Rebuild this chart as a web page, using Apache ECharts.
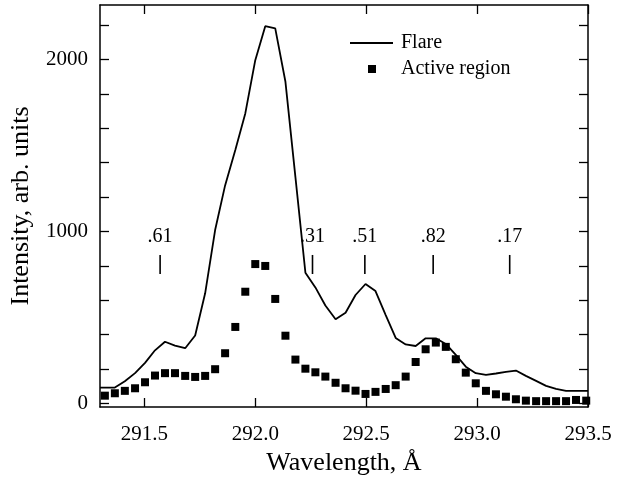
<!DOCTYPE html>
<html>
<head>
<meta charset="utf-8">
<script src="https://cdn.jsdelivr.net/npm/echarts@6/dist/echarts.min.js"></script>
<style>
  html, body { margin: 0; padding: 0; background: #ffffff; }
  #chart { width: 620px; height: 481px; }
</style>
</head>
<body>
<div id="chart"></div>
<script>
// Spectrometer sampling grid (Å) for the active-region profile
const wavelengthAR = [
  291.322, 291.367, 291.412, 291.458, 291.503, 291.548, 291.593, 291.638, 291.684, 291.729,
  291.774, 291.819, 291.864, 291.910, 291.955, 292.000, 292.045, 292.090, 292.136, 292.181,
  292.226, 292.271, 292.316, 292.362, 292.407, 292.452, 292.497, 292.542, 292.588, 292.633,
  292.678, 292.723, 292.768, 292.814, 292.859, 292.904, 292.949, 292.994, 293.040, 293.085,
  293.130, 293.175, 293.220, 293.266, 293.311, 293.356, 293.401, 293.446, 293.492
];
const activeRegion = [
  44, 58, 72, 87, 122, 161, 175, 175, 159, 153,
  159, 198, 291, 444, 649, 810, 799, 607, 393, 254,
  201, 180, 155, 119, 87, 73, 54, 66, 83, 105,
  155, 240, 314, 353, 328, 256, 178, 116, 72, 52,
  38, 23, 15, 12, 12, 12, 12, 19, 15
];

// Flare profile (same grid, plus the two window edges)
const wavelengthFlare = [
  291.300,
  291.322, 291.367, 291.412, 291.458, 291.503, 291.548, 291.593, 291.638, 291.684, 291.729,
  291.774, 291.819, 291.864, 291.910, 291.955, 292.000, 292.045, 292.090, 292.136, 292.181,
  292.226, 292.271, 292.316, 292.362, 292.407, 292.452, 292.497, 292.542, 292.588, 292.633,
  292.678, 292.723, 292.768, 292.814, 292.859, 292.904, 292.949, 292.994, 293.040, 293.085,
  293.130, 293.175, 293.220, 293.266, 293.311, 293.356, 293.401, 293.446, 293.492,
  293.500
];
const flare = [
  91,
  91, 91, 128, 175, 235, 308, 358, 335, 320, 394,
  640, 1008, 1268, 1474, 1687, 1997, 2195, 2182, 1871, 1316,
  760, 674, 569, 489, 527, 630, 694, 653, 513, 380,
  342, 333, 378, 378, 345, 281, 213, 175, 165, 173,
  182, 190, 159, 130, 101, 83, 72, 72, 72,
  72
];

// Line identifications: position markers and their labels
const idWavelength = [291.571, 292.258, 292.494, 292.802, 293.147];
const idLabel = ['.61', '.31', '.51', '.82', '.17'];
const idTickLow = 752;
const idTickHigh = 863;
const idLabelLevel = 967;

// Axis ticks
const xTicks = [291.5, 292.0, 292.5, 293.0, 293.5];
const yTicks = [0, 200, 400, 600, 800, 1000, 1200, 1400, 1600, 1800, 2000, 2200];
const yTickLabels = [0, 1000, 2000];

const FONT = '"Liberation Serif", "Times New Roman", serif';
const X_MIN = 291.3, X_MAX = 293.5;
const Y_MIN = -22, Y_MAX = 2318;

const chart = echarts.init(document.getElementById('chart'), null, { renderer: 'canvas' });

const frameLine = { show: true, onZero: false, lineStyle: { color: '#000', width: 1.5 } };
const tickStyle = { color: '#000', width: 1.3 };

chart.setOption({
  animation: false,
  backgroundColor: '#ffffff',
  textStyle: { fontFamily: FONT, color: '#000' },
  grid: { left: 100, right: 32, top: 5, bottom: 74, containLabel: false },
  legend: [
    {
      data: [{ name: 'Flare', icon: 'path://M0,0 L43,0 L43,2 L0,2 Z' }],
      left: 345, top: 28,
      itemWidth: 43, itemHeight: 8,
      itemStyle: { color: '#000', opacity: 1 },
      textStyle: { fontFamily: FONT, fontSize: 20, color: '#000', padding: [0, 0, 0, 3] },
      selectedMode: false
    },
    {
      data: [{ name: 'Active region', icon: 'rect' }],
      left: 363, top: 54,
      itemWidth: 8, itemHeight: 8,
      itemStyle: { color: '#000', opacity: 1 },
      textStyle: { fontFamily: FONT, fontSize: 20, color: '#000', padding: [0, 0, 0, 20] },
      selectedMode: false
    }
  ],
  xAxis: [
    {
      type: 'value', min: X_MIN, max: X_MAX, position: 'bottom',
      name: 'Wavelength, Å', nameLocation: 'middle', nameGap: 40,
      nameTextStyle: { fontFamily: FONT, fontSize: 26, color: '#000' },
      axisLine: frameLine,
      axisTick: { show: true, inside: true, length: 9, customValues: xTicks, lineStyle: tickStyle },
      axisLabel: { show: true, customValues: xTicks, margin: 17, fontFamily: FONT, fontSize: 21, color: '#000',
                   formatter: v => v.toFixed(1) },
      splitLine: { show: false }
    },
    {
      type: 'value', min: X_MIN, max: X_MAX, position: 'top',
      axisLine: frameLine,
      axisTick: { show: true, inside: true, length: 9, customValues: xTicks, lineStyle: tickStyle },
      axisLabel: { show: false },
      splitLine: { show: false }
    }
  ],
  yAxis: [
    {
      type: 'value', min: Y_MIN, max: Y_MAX, position: 'left',
      name: 'Intensity, arb. units', nameLocation: 'middle', nameGap: 66,
      nameTextStyle: { fontFamily: FONT, fontSize: 26, color: '#000' },
      axisLine: frameLine,
      axisTick: { show: true, inside: true, length: 9, customValues: yTicks, lineStyle: tickStyle },
      axisLabel: { show: true, customValues: yTickLabels, margin: 12, fontFamily: FONT, fontSize: 21, color: '#000',
                   formatter: v => String(v) },
      splitLine: { show: false }
    },
    {
      type: 'value', min: Y_MIN, max: Y_MAX, position: 'right',
      axisLine: frameLine,
      axisTick: { show: true, inside: true, length: 9, customValues: yTicks, lineStyle: tickStyle },
      axisLabel: { show: false },
      splitLine: { show: false }
    }
  ],
  series: [
    {
      name: 'Flare',
      type: 'line',
      data: wavelengthFlare.map((w, i) => [w, flare[i]]),
      symbol: 'none',
      smooth: false,
      clip: true,
      color: '#000',
      lineStyle: { color: '#000', width: 1.8 },
      z: 3
    },
    {
      name: 'Active region',
      type: 'scatter',
      data: wavelengthAR.map((w, i) => [w, activeRegion[i]]),
      symbol: 'rect',
      symbolSize: 8,
      clip: false,
      itemStyle: { color: '#000', opacity: 1 },
      z: 4
    },
    {
      name: 'ids',
      type: 'custom',
      data: idWavelength.map((w, i) => [w, i]),
      silent: true,
      renderItem: (params, api) => {
        const w = api.value(0);
        const lo = api.coord([w, idTickLow]);
        const hi = api.coord([w, idTickHigh]);
        const txt = api.coord([w, idLabelLevel]);
        return {
          type: 'group',
          children: [
            { type: 'line', shape: { x1: lo[0], y1: lo[1], x2: hi[0], y2: hi[1] },
              style: { stroke: '#000', lineWidth: 1.6 } },
            { type: 'text', x: txt[0], y: txt[1],
              style: { text: idLabel[params.dataIndex], font: '20px ' + FONT, fill: '#000',
                       align: 'center', verticalAlign: 'middle' } }
          ]
        };
      }
    }
  ]
});
</script>
</body>
</html>
